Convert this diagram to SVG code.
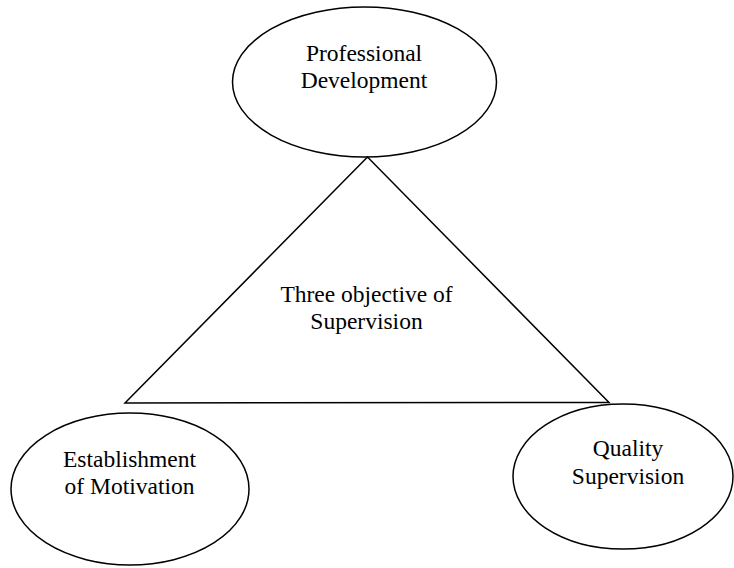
<svg xmlns="http://www.w3.org/2000/svg" width="734" height="568" viewBox="0 0 734 568">
<style>
.shape{fill:none;stroke:#000;stroke-width:1.5}
.lbl{font-family:"Liberation Serif","Times New Roman",serif;font-size:23.5px;fill:#000;text-anchor:middle}
</style>
<rect width="734" height="568" fill="#fff"/>
<g id="connectors">
<polygon class="shape" points="367.5,157 125,403 609,402.5"/>
</g>
<g id="node-center">
<text class="lbl" x="366.5" y="301.5">Three objective of</text>
<text class="lbl" x="366.5" y="328.5">Supervision</text>
</g>
<g id="node-professional">
<ellipse class="shape" cx="364.5" cy="82" rx="132" ry="75"/>
<text class="lbl" x="364" y="61">Professional</text>
<text class="lbl" x="364" y="88">Development</text>
</g>
<g id="node-motivation">
<ellipse class="shape" cx="130" cy="489" rx="119" ry="76"/>
<text class="lbl" x="129.5" y="467">Establishment</text>
<text class="lbl" x="129.5" y="494">of Motivation</text>
</g>
<g id="node-quality">
<ellipse class="shape" cx="623" cy="476.5" rx="110" ry="72.5"/>
<text class="lbl" x="628" y="456">Quality</text>
<text class="lbl" x="628" y="484">Supervision</text>
</g>
</svg>
